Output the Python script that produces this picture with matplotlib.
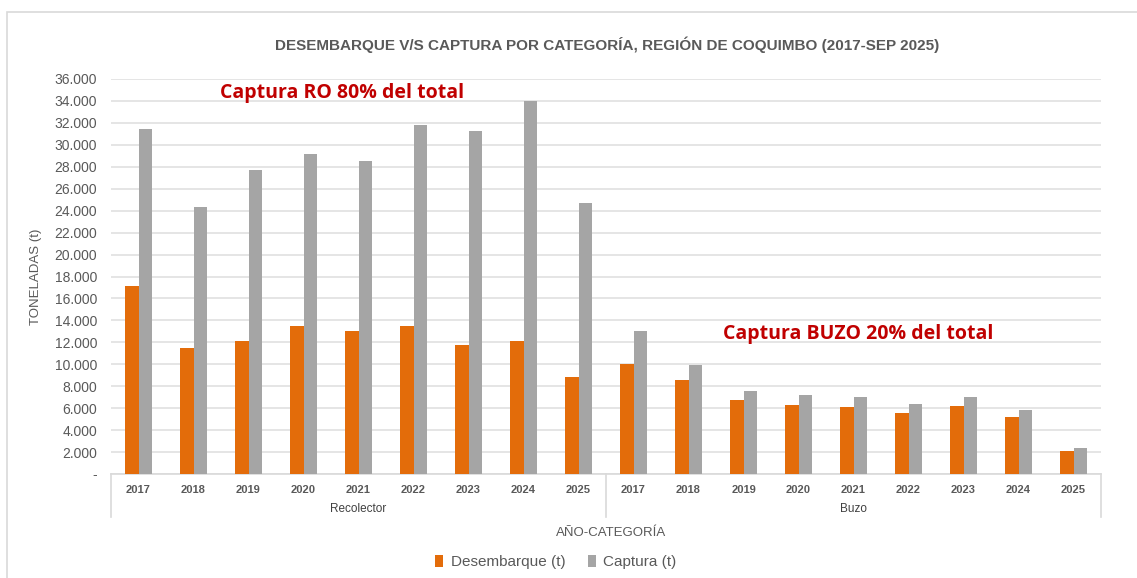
import matplotlib
matplotlib.use("Agg")
import matplotlib.pyplot as plt
from matplotlib.patches import Rectangle
import numpy as np

years = ["2017", "2018", "2019", "2020", "2021", "2022", "2023", "2024", "2025"]
groups = ["Recolector", "Buzo"]
desembarque_recolector = [17100, 11500, 12100, 13500, 13000, 13500, 11800, 12100, 8800]
captura_recolector = [31400, 24300, 27700, 29200, 28500, 31800, 31300, 34000, 24700]
desembarque_buzo = [10000, 8600, 6700, 6300, 6100, 5600, 6200, 5150, 2100]
captura_buzo = [13000, 9950, 7600, 7200, 7000, 6400, 7000, 5800, 2350]
yticks = [0, 2000, 4000, 6000, 8000, 10000, 12000, 14000, 16000, 18000,
          20000, 22000, 24000, 26000, 28000, 30000, 32000, 34000, 36000]

W, H = 1137, 578
fig = plt.figure(figsize=(W / 100, H / 100), dpi=100)
plt.rcParams['font.family'] = ['Liberation Sans', 'DejaVu Sans']

def fx(px):
    return px / W

def fy(py):
    return 1 - py / H

# outer chart border
fig.patches.append(Rectangle((fx(7), fy(600)), fx(1200 - 7), fy(12) - fy(600),
                             transform=fig.transFigure, fill=False,
                             edgecolor="#d9d9d9", linewidth=1.2))

left, right, top, bottom = 111, 1101, 79, 474
ax = fig.add_axes([fx(left), fy(bottom), fx(right - left), fy(top) - fy(bottom)])

desem = desembarque_recolector + desembarque_buzo
capt = captura_recolector + captura_buzo
x = np.arange(len(desem))
bw = 0.25
orange = "#E36C0A"
gray = "#A5A5A5"
ax.bar(x - bw / 2, desem, bw, color=orange, label="Desembarque (t)", zorder=3)
ax.bar(x + bw / 2, capt, bw, color=gray, label="Captura (t)", zorder=3)

ax.set_xlim(-0.5, len(desem) - 0.5)
ax.set_ylim(0, 36000)
ax.set_yticks(yticks)
ax.set_yticklabels(["-" if v == 0 else f"{v:,}".replace(",", ".") for v in yticks],
                   fontsize=10, color="#595959")
ax.grid(axis="y", color="#e0e0e0", linewidth=1.2, zorder=0)
ax.tick_params(axis="y", length=0, pad=10)
ax.tick_params(axis="x", length=0, pad=8)
ax.set_xticks(x)
ax.set_xticklabels(years + years, fontsize=8, fontweight="bold", color="#595959")
for s in ["top", "right", "left"]:
    ax.spines[s].set_visible(False)
ax.spines["bottom"].set_color("#d9d9d9")
ax.spines["bottom"].set_linewidth(1.2)

# group separators and labels
n = len(years)
for bx in [-0.5, n - 0.5, 2 * n - 0.5]:
    ax.plot([bx, bx], [0, -3900], color="#d9d9d9", linewidth=1.2,
            transform=ax.transData, clip_on=False)
for i, g in enumerate(groups):
    ax.text(i * n + (n - 1) / 2, -3150, g, ha="center", va="center",
            fontsize=8.5, color="#404040")

ax.set_ylabel("TONELADAS (t)", fontsize=9.5, color="#595959")
ax.yaxis.set_label_coords((42 - left) / (right - left), 0.5)

fig.text(fx(607), fy(45), "DESEMBARQUE V/S CAPTURA POR CATEGORÍA, REGIÓN DE COQUIMBO (2017-SEP 2025)",
         ha="center", va="center", fontsize=11, fontweight="bold", color="#595959")
fig.text(fx(611), fy(533), "AÑO-CATEGORÍA", ha="center", va="center",
         fontsize=9.5, color="#595959")

fig.text(fx(220), fy(93), "Captura RO 80% del total", ha="left", va="center",
         fontsize=14, fontweight="bold", color="#C00000", family=["Open Sans", "DejaVu Sans"])
fig.text(fx(723), fy(334), "Captura BUZO 20% del total", ha="left", va="center",
         fontsize=14, fontweight="bold", color="#C00000", family=["Open Sans", "DejaVu Sans"])

leg = fig.legend(loc="center", bbox_to_anchor=(fx(556), fy(562)), ncol=2, frameon=False,
                 fontsize=11, handlelength=0.5, handleheight=0.8, handletextpad=0.5,
                 columnspacing=1.5, labelcolor="#595959")

fig.savefig("out.png", dpi=100, facecolor="white")
